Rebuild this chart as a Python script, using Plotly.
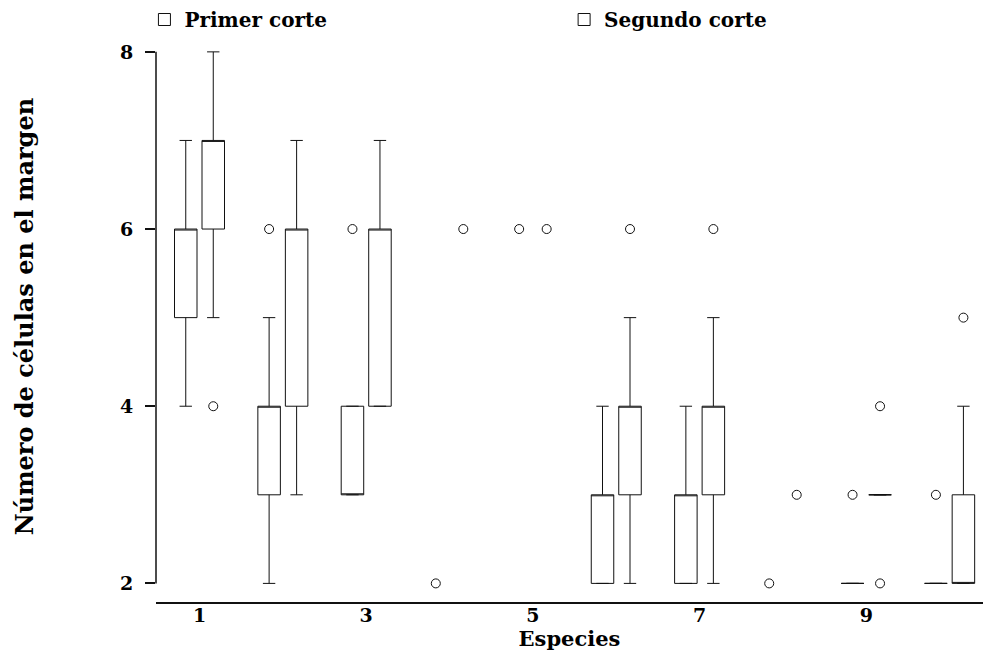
import plotly.graph_objects as go

# Species on the x axis (1..10); odd ones are labelled
tick_species = [1, 3, 5, 7, 9]
y_ticks = [2, 4, 6, 8]

# Primer corte: box statistics for species that have a box
primer_sp = [1, 2, 3, 6, 7, 9, 10]
primer_q1 = [5, 3, 3, 2, 2, 2, 2]
primer_med = [6, 4, 3, 3, 3, 2, 2]
primer_q3 = [6, 4, 4, 3, 3, 2, 2]
primer_lo = [4, 2, 3, 2, 2, 2, 2]
primer_hi = [7, 5, 4, 4, 4, 2, 2]
# Primer corte: outlying observations
primer_out_sp = [2, 3, 4, 5, 8, 9, 10]
primer_out_val = [6, 6, 2, 6, 2, 3, 3]

# Segundo corte: box statistics
segundo_sp = [1, 2, 3, 6, 7, 9, 10]
segundo_q1 = [6, 4, 4, 3, 3, 3, 2]
segundo_med = [7, 6, 6, 4, 4, 3, 2]
segundo_q3 = [7, 6, 6, 4, 4, 3, 3]
segundo_lo = [5, 3, 4, 2, 2, 3, 2]
segundo_hi = [8, 7, 7, 5, 5, 3, 4]
# Segundo corte: outlying observations
segundo_out_sp = [1, 4, 5, 6, 7, 8, 9, 9, 10]
segundo_out_val = [4, 6, 6, 6, 6, 3, 4, 2, 5]

OFFSET = 0.165   # horizontal shift of each cut from the species position
BOX_W = 0.27     # box width in species units
FONT = "DejaVu Serif"
INK = "#111111"

fig = go.Figure()


def add_cut(name, legend_id, shift, sp, q1, med, q3, lo, hi, out_sp, out_val):
    fig.add_trace(go.Box(
        name=name,
        legend=legend_id,
        legendgroup=name,
        x=[s + shift for s in sp],
        q1=q1, median=med, q3=q3,
        lowerfence=lo, upperfence=hi,
        width=BOX_W,
        whiskerwidth=0.55,
        fillcolor="white",
        line=dict(color=INK, width=1),
        boxpoints=False,
        hoverinfo="skip",
    ))
    fig.add_trace(go.Scatter(
        name=name,
        legend=legend_id,
        legendgroup=name,
        showlegend=False,
        x=[s + shift for s in out_sp],
        y=out_val,
        mode="markers",
        marker=dict(symbol="circle-open", size=9, color=INK,
                    line=dict(width=1, color=INK)),
        cliponaxis=False,
        hoverinfo="skip",
    ))


add_cut("Primer corte", "legend", -OFFSET, primer_sp, primer_q1, primer_med,
        primer_q3, primer_lo, primer_hi, primer_out_sp, primer_out_val)
add_cut("Segundo corte", "legend2", OFFSET, segundo_sp, segundo_q1, segundo_med,
        segundo_q3, segundo_lo, segundo_hi, segundo_out_sp, segundo_out_val)

# y axis line spanning the labelled range only
fig.add_shape(type="line", xref="paper", yref="y", x0=0, x1=0,
              y0=min(y_ticks), y1=max(y_ticks),
              line=dict(color=INK, width=1.5))

fig.add_annotation(
    text="Número de células en el margen",
    xref="paper", yref="paper", x=-0.158, y=0.51,
    xanchor="center", yanchor="middle", textangle=-90, showarrow=False,
    font=dict(family=FONT, size=24, color="black", weight="bold"),
)

legend_font = dict(family=FONT, size=20, color="black", weight="bold")

fig.update_layout(
    width=983, height=652,
    margin=dict(l=156, r=0, t=43, b=50, autoexpand=False),
    paper_bgcolor="white", plot_bgcolor="white",
    font=dict(family=FONT, color="black", weight="bold"),
    showlegend=True,
    legend=dict(
        orientation="h", x=-0.014, xanchor="left",
        yref="container", y=1.0, yanchor="top",
        font=legend_font, bgcolor="rgba(0,0,0,0)",
    ),
    legend2=dict(
        orientation="h", x=0.4935, xanchor="left",
        yref="container", y=1.0, yanchor="top",
        font=legend_font, bgcolor="rgba(0,0,0,0)",
    ),
    xaxis=dict(
        range=[0.478, 10.40],
        tickvals=tick_species,
        ticktext=[str(v) for v in tick_species],
        ticks="", showgrid=False, zeroline=False,
        showline=True, linecolor=INK, linewidth=1.5,
        ticklabelstandoff=-5,
        tickfont=dict(family=FONT, size=19, color="black", weight="bold"),
        title=dict(text="Especies", standoff=6,
                   font=dict(family=FONT, size=21, color="black", weight="bold")),
    ),
    yaxis=dict(
        range=[1.79, 8.1],
        tickvals=y_ticks,
        ticks="outside", ticklen=10, tickwidth=1.5, tickcolor=INK,
        ticklabelstandoff=8,
        showgrid=False, zeroline=False, showline=False,
        tickfont=dict(family=FONT, size=19, color="black", weight="bold"),
    ),
)

fig.write_html("out.html")
